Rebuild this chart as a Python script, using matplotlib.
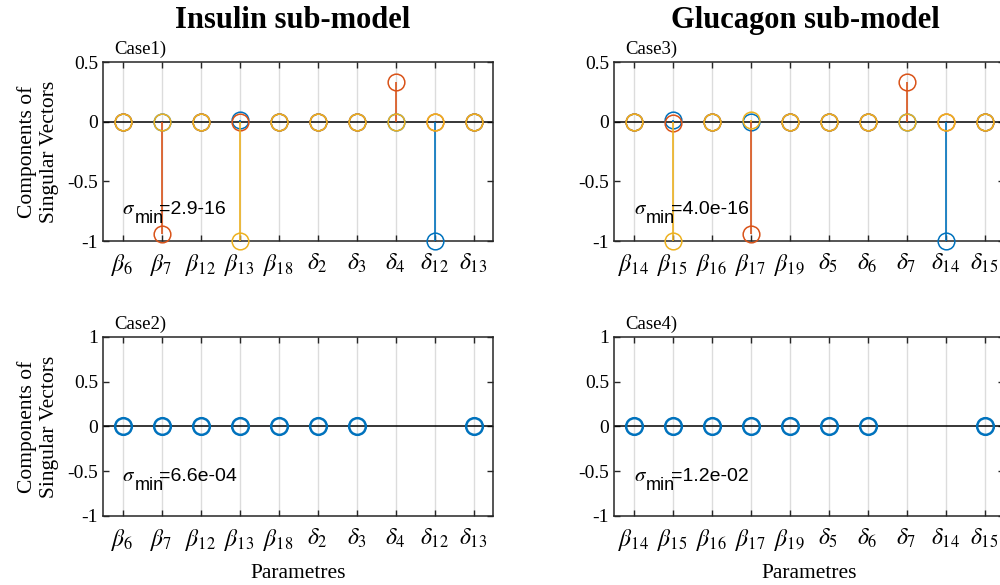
import numpy as np
import matplotlib
matplotlib.use("Agg")
import matplotlib.pyplot as plt

plt.rcParams['font.family'] = ['Liberation Serif', 'DejaVu Serif']
plt.rcParams['mathtext.fontset'] = 'stix'

# parameter names on the x axis
insulin_params = [r'$\beta_{6}$', r'$\beta_{7}$', r'$\beta_{12}$', r'$\beta_{13}$', r'$\beta_{18}$',
                  r'$\delta_{2}$', r'$\delta_{3}$', r'$\delta_{4}$', r'$\delta_{12}$', r'$\delta_{13}$']
glucagon_params = [r'$\beta_{14}$', r'$\beta_{15}$', r'$\beta_{16}$', r'$\beta_{17}$', r'$\beta_{19}$',
                   r'$\delta_{5}$', r'$\delta_{6}$', r'$\delta_{7}$', r'$\delta_{14}$', r'$\delta_{15}$']

# singular vectors, case 1 (insulin, three vectors)
case1_v1 = [0, 0, 0, 0.01, 0, 0, 0, 0, -1, 0]
case1_v2 = [0, -0.94, 0, 0, 0, 0, 0, 0.33, 0, 0]
case1_v3 = [0, 0, 0, -1, 0, 0, 0, 0, 0, 0]

# case 3 (glucagon, three vectors)
case3_v1 = [0, 0.01, 0, 0, 0, 0, 0, 0, -1, 0]
case3_v2 = [0, -0.01, 0, -0.94, 0, 0, 0, 0.33, 0, 0]
case3_v3 = [0, -1, 0, 0.01, 0, 0, 0, 0, 0, 0]

# cases 2 and 4: one vector, two parameters missing
case2_v1 = [0, 0, 0, 0, 0, 0, 0, np.nan, np.nan, 0]
case4_v1 = [0, 0, 0, 0, 0, 0, 0, np.nan, np.nan, 0]

sigma_txt = ['2.9-16', '6.6e-04', '4.0e-16', '1.2e-02']

colors = ['#0072BD', '#D95319', '#EDB120']


def draw_stems(ax, vectors, lw_marker):
    for i, v in enumerate(vectors):
        v = np.asarray(v, dtype=float)
        x = np.arange(1, len(v) + 1)
        ok = ~np.isnan(v)
        ax.vlines(x[ok], 0, v[ok], color=colors[i], lw=1.2, zorder=3 + i)
        ax.plot(x[ok], v[ok], 'o', ms=12, mfc='none', mec=colors[i], mew=lw_marker,
                zorder=3 + i, clip_on=False)


def sigma_label(ax, y, sig):
    # sigma, then "min" lowered, then the value
    ax.annotate(r'$\sigma$', xy=(1.0, y), xytext=(0, 0), textcoords='offset pixels',
                fontsize=15, va='center', ha='left', zorder=10)
    ax.annotate('min', xy=(1.0, y), xytext=(12, -9), textcoords='offset pixels',
                fontsize=13, family=['Liberation Sans'], va='center', ha='left', zorder=10)
    ax.annotate('=' + sig, xy=(1.0, y), xytext=(37, 0), textcoords='offset pixels',
                fontsize=14, family=['Liberation Sans'], va='center', ha='left', zorder=10)


def setup(ax, labels, ylim, yticks, case, sig, sig_y, xlabel):
    ax.set_xlim(0.5, 10.5)
    ax.set_ylim(*ylim)
    ax.set_xticks(np.arange(1, 11))
    ax.set_xticklabels(labels, fontsize=17)
    ax.set_yticks(yticks)
    ax.set_yticklabels([('%g' % t) for t in yticks], fontsize=14)
    ax.grid(axis='x', color='#dcdcdc', lw=1)
    ax.set_axisbelow(True)
    ax.axhline(0, color='black', lw=1.1, zorder=2)
    ax.tick_params(direction='in', top=True, right=True, length=4, width=1, color='#262626')
    ax.tick_params(axis='x', pad=8)
    for s in ax.spines.values():
        s.set_color('#262626')
        s.set_linewidth(1.1)
    ax.text(0.03, 1.02, case, transform=ax.transAxes, fontsize=13.5, va='bottom', ha='left')
    sigma_label(ax, sig_y, sig)
    if xlabel:
        ax.set_xlabel('Parametres', fontsize=15.5, labelpad=8)


fig = plt.figure(figsize=(10, 5.85), dpi=100)
ax1 = fig.add_axes([0.103, 0.588, 0.39, 0.306])
ax2 = fig.add_axes([0.103, 0.118, 0.39, 0.306])
ax3 = fig.add_axes([0.614, 0.588, 0.39, 0.306])
ax4 = fig.add_axes([0.614, 0.118, 0.39, 0.306])

draw_stems(ax1, [case1_v1, case1_v2, case1_v3], 1.1)
draw_stems(ax3, [case3_v1, case3_v2, case3_v3], 1.1)
draw_stems(ax2, [case2_v1], 1.8)
draw_stems(ax4, [case4_v1], 1.8)

setup(ax1, insulin_params, (-1, 0.5), [-1, -0.5, 0, 0.5], 'Case1)', sigma_txt[0], -0.74, False)
setup(ax2, insulin_params, (-1, 1), [-1, -0.5, 0, 0.5, 1], 'Case2)', sigma_txt[1], -0.56, True)
setup(ax3, glucagon_params, (-1, 0.5), [-1, -0.5, 0, 0.5], 'Case3)', sigma_txt[2], -0.74, False)
setup(ax4, glucagon_params, (-1, 1), [-1, -0.5, 0, 0.5, 1], 'Case4)', sigma_txt[3], -0.56, True)

for ax in (ax1, ax2):
    ax.set_ylabel('Components of\nSingular Vectors', fontsize=15.5, linespacing=1.2, labelpad=6)

fig.text(0.293, 0.965, 'Insulin sub-model', fontsize=22, weight='bold', ha='center', va='center')
fig.text(0.805, 0.965, 'Glucagon sub-model', fontsize=22, weight='bold', ha='center', va='center')

fig.savefig('out.png', dpi=100)
